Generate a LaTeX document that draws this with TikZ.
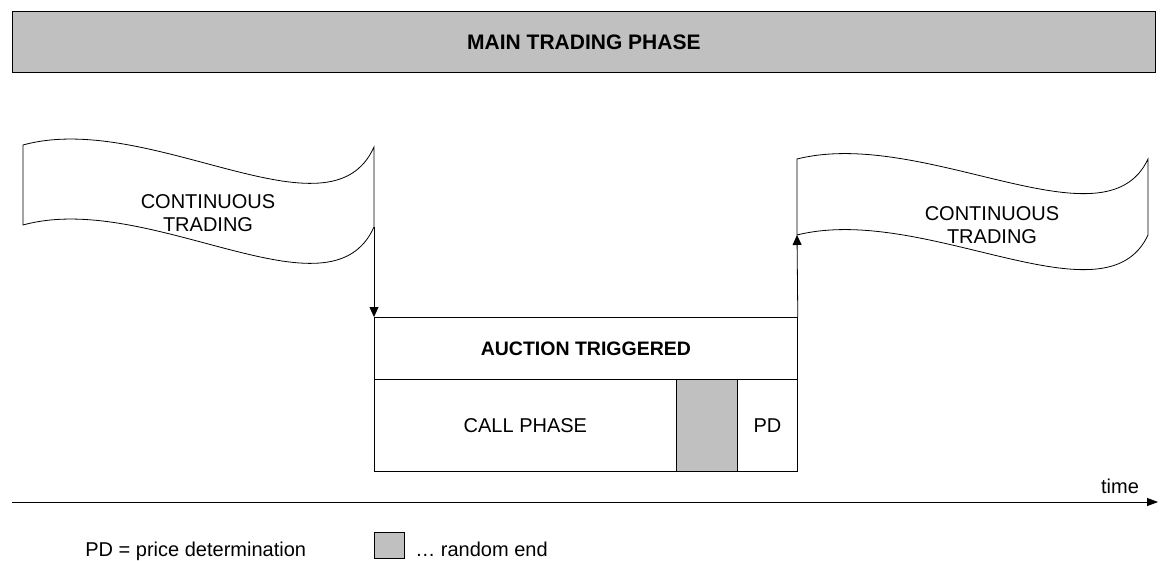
\documentclass[tikz,border=0pt]{standalone}
\usepackage{fontspec}
\setmainfont{Liberation Sans}
\usetikzlibrary{arrows.meta}
\definecolor{boxgray}{RGB}{192,192,192}
\begin{document}
\begin{tikzpicture}[x=1pt,y=-1pt,line width=0.8pt,
  reg/.style={font=\fontsize{20}{23}\selectfont,align=center,inner sep=0pt},
  boxnode/.style={draw,anchor=north west,inner sep=0pt},
  tip/.style={-{Triangle[length=10pt,width=9pt]}}]
\useasboundingbox (0,0) rectangle (1161,560);
% title bar
\node[boxnode,fill=boxgray,minimum width=1143pt,minimum height=61pt] (main) at (12,11)
  {\fontsize{21}{25}\selectfont\bfseries MAIN TRADING PHASE};
% left wave
\draw (23,145) .. controls (150,110) and (330,245) .. (374,147) -- (374,227)
      .. controls (330,325) and (150,190) .. (23,225) -- cycle;
\coordinate (lwbr) at (374,227);
\node[reg] (ct1) at (208,213.5) {CONTINUOUS\\TRADING};
% right wave
\draw (797,159) .. controls (925,127) and (1105,251) .. (1148,159) -- (1148,235)
      .. controls (1105,327) and (925,203) .. (797,235) -- cycle;
\coordinate (rwbl) at (797,235);
\node[reg] (ct2) at (992,225.5) {CONTINUOUS\\TRADING};
% auction block
\node[boxnode,minimum width=423pt,minimum height=62pt] (auc) at (374,317)
  {\fontsize{19.5}{23}\selectfont\bfseries AUCTION TRIGGERED};
\node[boxnode,minimum width=302pt,minimum height=92pt,font=\fontsize{20}{23}\selectfont] (call) at (374,379) {CALL PHASE};
\node[boxnode,fill=boxgray,minimum width=61pt,minimum height=92pt] (rand) at (676,379) {};
\node[boxnode,minimum width=60pt,minimum height=92pt,font=\fontsize{20}{23}\selectfont] (pd) at (737,379) {PD};
% arrows
\draw[tip] (lwbr) -- (auc.north west);
\draw[tip] (auc.north east) -- (rwbl);
% time axis
\coordinate (t0) at (12,502);
\coordinate (t1) at (1158,502);
\draw[-{Triangle[length=11pt,width=8pt]}] (t0) -- (t1);
\node[reg,anchor=base] (time) at (1120,493) {time};
% legend
\node[reg,anchor=base west] (leg1) at (85,556) {PD = price determination};
\node[boxnode,fill=boxgray,minimum width=30pt,minimum height=26pt] (legbox) at (374,532) {};
\node[reg,anchor=base west] (leg2) at (415,556) {… random end};
\end{tikzpicture}
\end{document}
